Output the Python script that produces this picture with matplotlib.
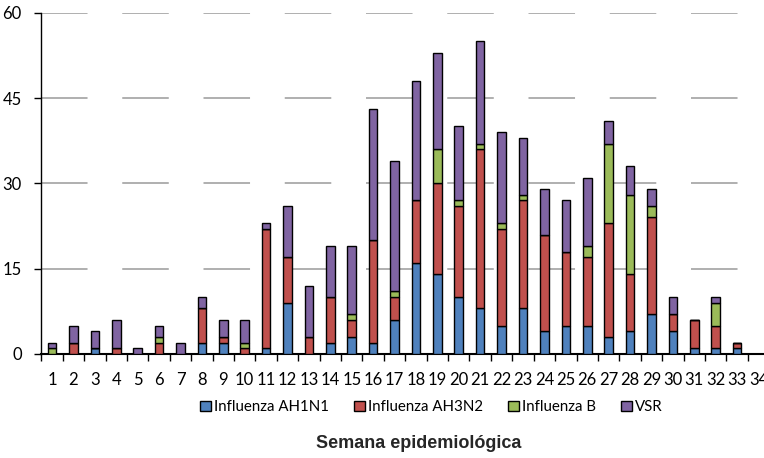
import matplotlib
matplotlib.use("Agg")
import matplotlib.pyplot as plt
from matplotlib.patches import Patch
import numpy as np

weeks = list(range(1, 35))
ah1n1 = [0, 0, 1, 0, 0, 0, 0, 2, 2, 0, 1, 9, 0, 2, 3, 2, 6, 16, 14, 10, 8, 5, 8, 4, 5, 5, 3, 4, 7, 4, 1, 1, 1, 0]
ah3n2 = [0, 2, 0, 1, 0, 2, 0, 6, 1, 1, 21, 8, 3, 8, 3, 18, 4, 11, 16, 16, 28, 17, 19, 17, 13, 12, 20, 10, 17, 3, 5, 4, 1, 0]
flu_b = [1, 0, 0, 0, 0, 1, 0, 0, 0, 1, 0, 0, 0, 0, 1, 0, 1, 0, 6, 1, 1, 1, 1, 0, 0, 2, 14, 14, 2, 0, 0, 4, 0, 0]
vsr = [1, 3, 3, 5, 1, 2, 2, 2, 3, 4, 1, 9, 9, 9, 12, 23, 23, 21, 17, 13, 18, 16, 10, 8, 9, 12, 4, 5, 3, 3, 0, 1, 0, 0]

series_names = ["Influenza AH1N1", "Influenza AH3N2", "Influenza B", "VSR"]
colors = ["#4F81BD", "#C0504D", "#9BBB59", "#8064A2"]
yticks = [0, 15, 30, 45, 60]

W, H = 764, 458
fig = plt.figure(figsize=(W / 100, H / 100), dpi=100)
ax = fig.add_axes([41.3 / W, (H - 354) / H, 727.9 / W, (354 - 12.7) / H])

x = np.array(weeks)
bottom = np.zeros(len(weeks))
for vals, c in zip([ah1n1, ah3n2, flu_b, vsr], colors):
    v = np.array(vals, dtype=float)
    ax.bar(x, v, width=0.4, bottom=bottom, color=c, edgecolor="black",
           linewidth=1.0, zorder=3)
    bottom += v

ax.set_xlim(0.5, 34.5)
ax.set_ylim(0, 60)
ax.set_yticks(yticks)
ax.set_yticklabels([str(t) for t in yticks], fontfamily="Lato", fontsize=12)
ax.set_xticks(weeks)
ax.set_xticklabels([str(w) for w in weeks], fontfamily="Lato", fontsize=12)
ax.set_xticks(np.arange(0.5, 35.5, 1.0), minor=True)
ax.tick_params(axis="x", which="major", length=0, pad=13)
ax.tick_params(axis="x", which="minor", length=5, width=1, direction="out", color="black")
ax.tick_params(axis="y", which="major", length=5, width=1, direction="out", pad=9)

for s in ["top", "right"]:
    ax.spines[s].set_visible(False)
ax.spines["left"].set_linewidth(1.0)
ax.spines["bottom"].set_linewidth(1.5)

# long-dash horizontal gridlines
grid_lw = 1.4
for yv in yticks[1:]:
    ax.axhline(yv, color="#AFAFAF", linewidth=grid_lw,
               linestyle=(0, (33.5 / grid_lw, 25.0 / grid_lw)), zorder=1)

handles = [Patch(facecolor=c, edgecolor="black", linewidth=1.0, label=n)
           for c, n in zip(colors, series_names)]
leg = fig.legend(handles=handles, loc="center", bbox_to_anchor=(431.5 / W, 1 - 407 / H),
                 ncol=4, frameon=False, prop={"family": "Lato", "size": 10.8},
                 handlelength=0.7, handleheight=0.7, handletextpad=0.25,
                 columnspacing=1.65, borderpad=0.2)

fig.text(419 / W, 1 - 444 / H, "Semana epidemiológica", ha="center", va="center",
         fontfamily="Liberation Sans", fontweight="bold", fontsize=13, color="#262626")

fig.savefig("out.png", dpi=100)
